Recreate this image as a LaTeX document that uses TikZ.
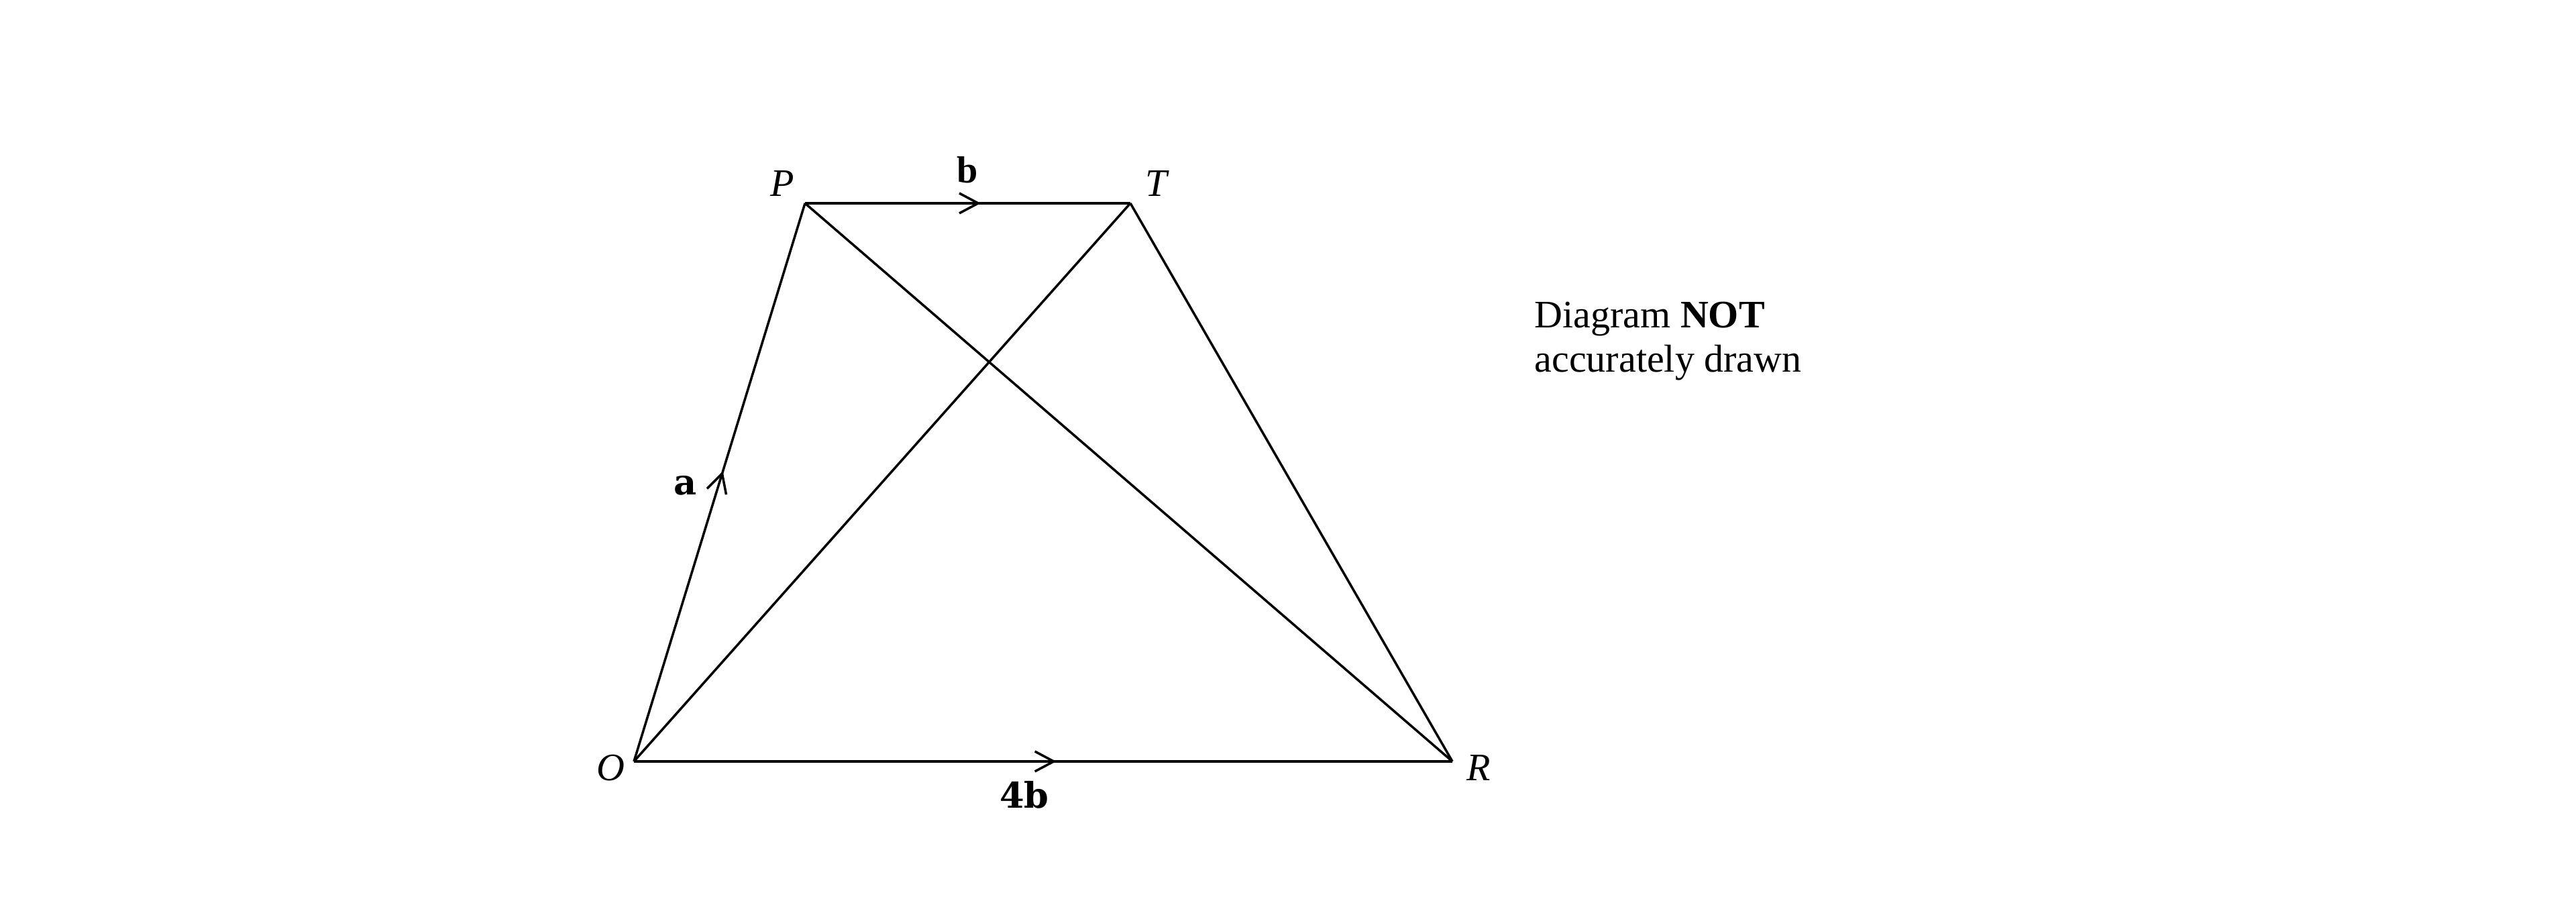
\documentclass[tikz,border=0pt]{standalone}
\usepackage{fontspec}
\setmainfont{Liberation Serif}
\newfontfamily\vecfont{DejaVu Serif}
\usetikzlibrary{arrows.meta}
\usetikzlibrary{decorations.markings}
\tikzset{
  thinline/.style={line width=1pt},
  vecline/.style={line width=1.35pt},
  ptlabel/.style={inner sep=0pt,font=\fontsize{16.5}{19}\selectfont\itshape},
  midarrow/.style={postaction={decorate,decoration={markings,
      mark=at position #1 with {\arrow[line width=1pt]{Straight Barb[length=8pt,width=8.5pt]}}}}}
}
\newcommand{\veclabel}[3]{ \node[inner sep=0pt,font=\fontsize{15}{18}\selectfont\vecfont\bfseries] (#1) at (#2){#3};}

\begin{document}
\begin{tikzpicture}
        \useasboundingbox (0,0) rectangle (38.4,13.52);
        % vertices
        \coordinate (O) at (9.45,2.17);
        \coordinate (R) at (21.65,2.17);
        \coordinate (P) at (12.00,10.49);
        \coordinate (T) at (16.85,10.49);

        % sides
        \draw[thinline,midarrow=0.52] (O) -- (P);
        \draw[vecline,midarrow=0.54] (P) -- (T);
        \draw[thinline] (T) -- (R);
        \draw[vecline,midarrow=0.516] (O) -- (R);
        % diagonals
        \draw[thinline] (O) -- (T);
        \draw[thinline] (P) -- (R);

        % labels
        \node[ptlabel] (Plab) at (11.66,10.78){P};
        \node[ptlabel] (Tlab) at (17.24,10.78){T};
        \node[ptlabel] (Olab) at (9.10,2.07){O};
        \node[ptlabel] (Rlab) at (22.04,2.07){R};
        \node[inner sep=0pt,font=\fontsize{16}{19}\selectfont\bfseries] (blab) at (14.42,10.99){b};
        \veclabel{alab}{10.22,6.28}{a}
        \veclabel{fourblab}{15.27,1.67}{4b}

        % text
        \node[inner sep=0pt,anchor=north west,align=left,font=\fontsize{16.5}{19}\selectfont] (note) at (22.87,9.03){Diagram \textbf{NOT}\\accurately drawn};
    \end{tikzpicture}
\end{document}
